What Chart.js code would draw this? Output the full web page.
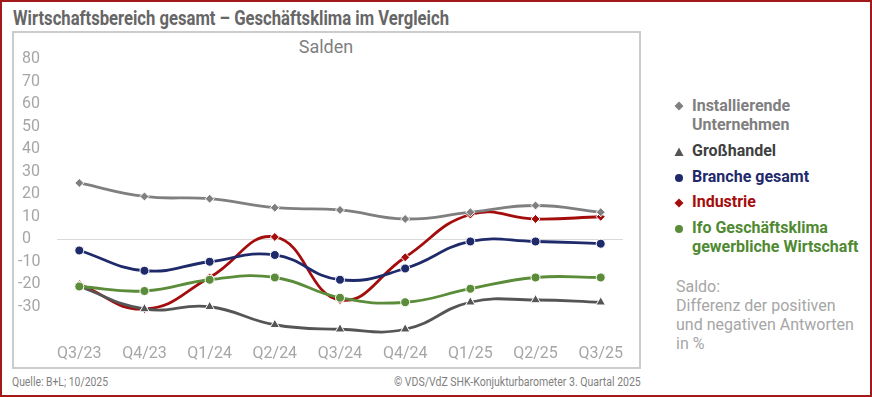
<!DOCTYPE html>
<html><head><meta charset="utf-8">
<script src="https://cdn.jsdelivr.net/npm/chart.js@4/dist/chart.umd.min.js"></script>
<style>
html,body{margin:0;padding:0;background:#fff;}
#page{position:relative;width:872px;height:397px;overflow:hidden;font-family:Roboto,"Noto Sans",sans-serif;}
#frame{position:absolute;left:0;top:0;width:872px;height:397px;box-sizing:border-box;border:2px solid #a31919;pointer-events:none;z-index:5;}
#box{position:absolute;left:12px;top:31px;width:629px;height:338px;box-sizing:border-box;border:2px solid #cccccc;}
#cv{position:absolute;left:0;top:0;z-index:2;}
.t{position:absolute;white-space:nowrap;transform-origin:0 0;}
#title{left:13px;top:8px;font-size:20px;line-height:20px;font-weight:700;color:#666666;}
#salden{left:226px;width:200px;text-align:center;top:38px;font-size:18px;line-height:18px;color:#7f7f7f;}
#legend{position:absolute;left:0;top:0;}
.lg{position:absolute;left:692px;font-size:16px;line-height:19px;font-weight:700;white-space:nowrap;}
.mk{position:absolute;left:672px;width:14px;height:14px;}
#note{position:absolute;left:676px;top:277px;font-size:16px;line-height:19px;color:#a6a6a6;white-space:nowrap;}
.ft{font-size:12px;line-height:12px;color:#7f7f7f;top:376px;}
</style></head>
<body>
<div id="page">
  <div id="box"></div>
  <div id="title" class="t">Wirtschaftsbereich gesamt – Geschäftsklima im Vergleich</div>
  <div id="salden" class="t">Salden</div>
  <canvas id="cv" width="872" height="397"></canvas>
  <div id="legend"></div>
  <div id="note">Saldo:<br>Differenz der positiven<br>und negativen Antworten<br>in %</div>
  <div id="src" class="t ft" style="left:12px">Quelle: B+L; 10/2025</div>
  <div id="copy" class="t ft">© VDS/VdZ SHK-Konjukturbarometer 3. Quartal 2025</div>
  <div id="frame"></div>
</div>
<script>
// ---- data ----
const categories = ['Q3/23','Q4/23','Q1/24','Q2/24','Q3/24','Q4/24','Q1/25','Q2/25','Q3/25'];
const installierende = [25, 19, 18, 14, 13, 9, 12, 15, 12];
const grosshandel    = [-21, -31, -30, -38, -40, -40, -28, -27, -28];
const brancheGesamt  = [-5, -14, -10, -7, -18, -13, -1, -1, -2];
const industrie      = [-20, -31, -17, 1, -27, -8, 11, 9, 10];
const ifoKlima       = [-21, -23, -18, -17, -26, -28, -22, -17, -17];
const yTickLabels    = [80, 70, 60, 50, 40, 30, 20, 10, 0, -10, -20, -30];
const seriesNames = [
  ['Installierende','Unternehmen'],
  ['Großhandel'],
  ['Branche gesamt'],
  ['Industrie'],
  ['Ifo Geschäftsklima','gewerbliche Wirtschaft']
];

// ---- fit helpers for condensed text ----
function fitWidth(id, w){ const el=document.getElementById(id); const s=w/el.scrollWidth; el.style.transform='scaleX('+s+')'; return el; }
fitWidth('title', 436);
fitWidth('src', 96);
const cp = fitWidth('copy', 247); cp.style.left = (640.5-247)+'px';

const styles = [
  {color:'#7f7f7f', point:'rectRot', r:4.5, order:2, text:'#7f7f7f'},
  {color:'#555555', point:'triangle', r:5.5, order:1, text:'#404040'},
  {color:'#1f2a6b', point:'circle', r:4.5, order:3, text:'#1f2a6b'},
  {color:'#a50d0d', point:'rectRot', r:4.5, order:4, text:'#a50d0d'},
  {color:'#5b8c3a', point:'circle', r:4.5, order:0, text:'#4f8a32'}
];
const values = [installierende, grosshandel, brancheGesamt, industrie, ifoKlima];

const datasets = values.map((v,i)=>({
  label: seriesNames[i].join(' '),
  data: v,
  borderColor: styles[i].color,
  backgroundColor: styles[i].color,
  borderWidth: 2.8,
  tension: 0.45,
  pointStyle: styles[i].point,
  pointRadius: styles[i].r,
  pointBorderColor: '#ffffff',
  pointBorderWidth: 1,
  order: styles[i].order
}));

// HTML legend
const legendTops = [95.5, 141, 167, 192, 218];
const lg = document.getElementById('legend');
seriesNames.forEach((lines,i)=>{
  const d=document.createElement('div'); d.className='lg'; d.style.top=legendTops[i]+'px'; d.style.color=styles[i].text;
  d.innerHTML = lines.join('<br>'); lg.appendChild(d);
  const c=styles[i].color, cy=legendTops[i]+9.5;
  let shape='';
  if(styles[i].point==='rectRot') shape='<polygon points="7,2.5 11.5,7 7,11.5 2.5,7" fill="'+c+'"/>';
  else if(styles[i].point==='triangle') shape='<polygon points="7,2.5 11.5,11 2.5,11" fill="'+c+'"/>';
  else shape='<circle cx="7" cy="7" r="4" fill="'+c+'"/>';
  const m=document.createElement('div'); m.className='mk'; m.style.top=(cy-7)+'px';
  m.innerHTML='<svg width="14" height="14">'+shape+'</svg>'; lg.appendChild(m);
});

const zeroLine = {
  id:'zeroLine',
  beforeDatasetsDraw(chart){
    const x=chart.scales.x, y=chart.scales.y, ctx=chart.ctx;
    const step=x.getPixelForValue(1)-x.getPixelForValue(0);
    const x0=x.getPixelForValue(0)-0.34*step, x1=x.getPixelForValue(categories.length-1)+0.34*step;
    const yy=Math.round(y.getPixelForValue(0))+0.5;
    ctx.save(); ctx.strokeStyle='#d9d9d9'; ctx.lineWidth=1;
    ctx.beginPath(); ctx.moveTo(x0,yy); ctx.lineTo(x1,yy); ctx.stroke(); ctx.restore();
  }
};

new Chart(document.getElementById('cv'), {
  type:'line',
  data:{labels:categories, datasets},
  plugins:[zeroLine],
  options:{
    responsive:false, animation:false, devicePixelRatio:1,
    layout:{padding:{left:18, right:238.7, top:59.2, bottom:29.3}},
    plugins:{legend:{display:false}, tooltip:{enabled:false}},
    scales:{
      x:{type:'category', offset:true,
         grid:{display:false, drawTicks:false}, border:{display:false},
         ticks:{color:'#a6a6a6', font:{family:'Roboto', size:16}, padding:4, maxRotation:0, autoSkip:false}},
      y:{min:-45, max:80,
         grid:{display:false, drawTicks:false}, border:{display:false},
         afterBuildTicks(s){ s.ticks = yTickLabels.map(v=>({value:v})); },
         afterFit(s){ s.width = 28.7; },
         ticks:{color:'#a6a6a6', font:{family:'Roboto', size:16}, crossAlign:'far', padding:0,
                callback:(v)=> v>=0 ? ' '+v : String(v)}}
    }
  }
});
</script>
</body></html>
